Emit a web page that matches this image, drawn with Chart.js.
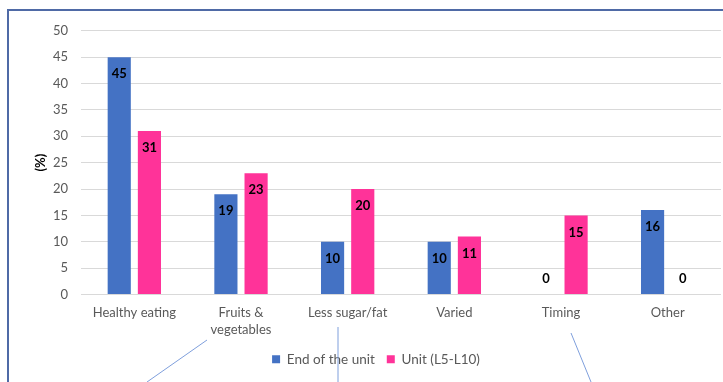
<!DOCTYPE html>
<html lang="en">
<head>
  <meta charset="UTF-8">
  <title>Healthy eating responses</title>
  <script src="https://cdn.jsdelivr.net/npm/chart.js"></script>
  <style>
    body {
      margin: 0;
      background: #fff;
      overflow: hidden;
      width: 723px;
      height: 382px;
      position: relative;
      font-family: 'Lato', sans-serif;
    }
    .frame {
      position: absolute;
      left: 7px;
      top: 9px;
      width: 800px;
      height: 420px;
      border: 2px solid #4f6aa6;
    }
    #chart {
      position: absolute;
      left: 31px;
      top: 10px;
    }
    svg.callouts {
      position: absolute;
      left: 0;
      top: 0;
    }
  </style>
</head>
<body>
<div class="frame"></div>
<canvas id="chart" width="690" height="372"></canvas>
<!-- callout leader lines running off below the chart -->
<svg class="callouts" width="723" height="382">
  <g stroke="#7f9fdc" stroke-width="1" fill="none">
    <line x1="207" y1="340" x2="147" y2="382"/>
    <line x1="338" y1="327" x2="338" y2="382"/>
    <line x1="571" y1="333" x2="591" y2="382"/>
  </g>
</svg>

<script>
  const categories = ["Healthy eating", ["Fruits &", "vegetables"], "Less sugar/fat", "Varied", "Timing", "Other"];
  const endOfUnit = [45, 19, 10, 10, 0, 16];
  const unitL5L10 = [31, 23, 20, 11, 15, 0];
  const yTicks = [0, 5, 10, 15, 20, 25, 30, 35, 40, 45, 50];

  const textGrey = "#595959";

  // value labels sit just inside the top of each bar (above the axis for zeros)
  const valueLabels = {
    id: "valueLabels",
    afterDatasetsDraw(chart) {
      const ctx = chart.ctx;
      ctx.save();
      ctx.font = "bold 13px Lato";
      ctx.fillStyle = "#000";
      ctx.textAlign = "center";
      ctx.textBaseline = "middle";
      chart.data.datasets.forEach((ds, i) => {
        chart.getDatasetMeta(i).data.forEach((bar, j) => {
          const v = ds.data[j];
          const y = v > 0 ? bar.y + 17 : bar.base - 16;
          ctx.fillText(String(v), bar.x, y);
        });
      });
      ctx.restore();
    }
  };

  const ctx = document.getElementById("chart").getContext("2d");
  new Chart(ctx, {
    type: "bar",
    data: {
      labels: categories,
      datasets: [
        { label: "End of the unit", data: endOfUnit, backgroundColor: "#4472c4" },
        { label: "Unit (L5-L10)", data: unitL5L10, backgroundColor: "#ff3399" }
      ]
    },
    options: {
      responsive: false,
      animation: false,
      categoryPercentage: 0.566,
      barPercentage: 0.767,
      layout: { padding: { top: 18, bottom: 6, left: 0, right: 0 } },
      plugins: {
        tooltip: { enabled: false },
        legend: {
          position: "bottom",
          labels: {
            boxWidth: 8,
            boxHeight: 8,
            padding: 12,
            color: textGrey,
            font: { family: "Lato", size: 13.5 }
          }
        }
      },
      scales: {
        x: {
          grid: { display: false, drawTicks: false },
          border: { color: "#d9d9d9" },
          afterFit: scale => { scale.height = 46; },
          ticks: {
            color: textGrey,
            font: { family: "Lato", size: 13, lineHeight: 1.3 },
            padding: 10,
            maxRotation: 0,
            autoSkip: false
          }
        },
        y: {
          min: 0,
          max: 50,
          afterBuildTicks: scale => { scale.ticks = yTicks.map(v => ({ value: v })); },
          afterFit: scale => { scale.width = 50; },
          grid: { color: "#d9d9d9", drawTicks: false },
          border: { display: false },
          ticks: {
            color: textGrey,
            font: { family: "Lato", size: 13 },
            padding: 13
          },
          title: {
            display: true,
            text: "(%)",
            color: "#000",
            font: { family: "Lato", size: 13, weight: "bold" },
            padding: { top: 2, bottom: 4 }
          }
        }
      }
    },
    plugins: [valueLabels]
  });
</script>
</body>
</html>
